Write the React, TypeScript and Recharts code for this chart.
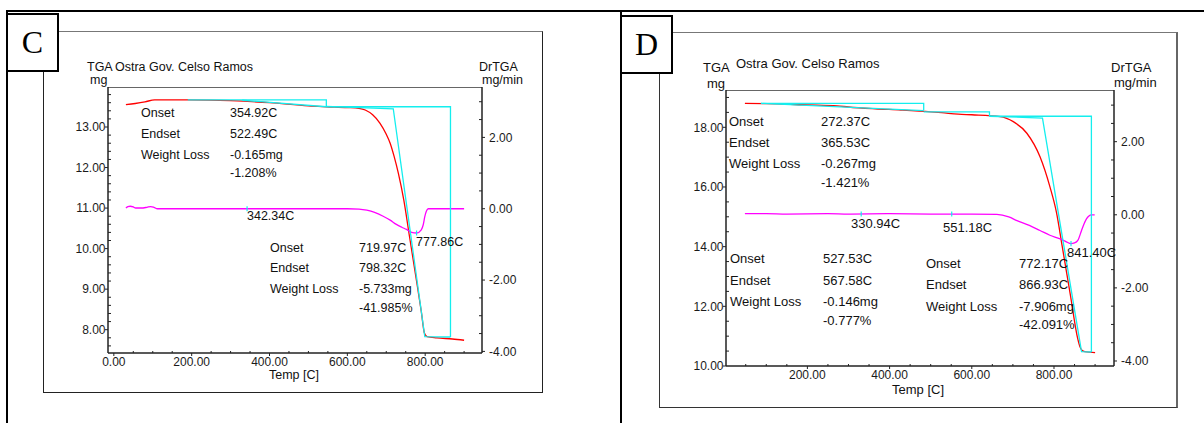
import React from "react";
import { ComposedChart, Line, XAxis, YAxis } from "recharts";

const FONT = '"Liberation Sans", Arial, Helvetica, sans-serif';
const RED = "#ff0000";
const MAG = "#ff00ff";
const CYAN = "#14eeee";

// ---------- panel C : TGA (mg) and DrTGA (mg/min) vs temperature ----------
const tgaTempC = [31, 55, 80, 105, 190, 300, 400, 500, 546, 600, 630, 646, 665, 684, 700, 710, 720, 731, 745, 760, 775, 790, 798, 805, 830, 870, 900];
const tgaMassC = [13.55, 13.58, 13.62, 13.67, 13.67, 13.65, 13.6, 13.52, 13.5, 13.48, 13.46, 13.42, 13.3, 13.09, 12.82, 12.6, 12.28, 11.86, 11.2, 10.28, 9.37, 8.45, 7.92, 7.83, 7.8, 7.77, 7.74];
const drTempC = [31, 36, 42, 50, 56, 70, 85, 95, 103, 112, 200, 400, 600, 630, 650, 670, 692, 710, 726, 740, 752, 765, 778, 790, 795, 799, 803, 808, 900];
const drRateC = [0.02, 0.06, 0.07, 0.05, 0.02, 0.02, 0.04, 0.06, 0.04, 0, 0, 0, 0, -0.01, -0.04, -0.1, -0.21, -0.32, -0.44, -0.52, -0.58, -0.66, -0.68, -0.59, -0.45, -0.22, -0.07, 0, 0];
const cyanC = [
  [[190, 13.67], [546, 13.67], [546, 13.5]],
  [[330, 13.66], [546, 13.5]],
  [[546, 13.5], [865, 13.5], [865, 7.82]],
  [[546, 13.51], [718, 13.45], [799, 7.83], [865, 7.82]],
];
const peaksC = [[342.34, 0], [777.86, -0.68]];

// ---------- panel D ----------
const tgaTempD = [48, 100, 200, 272, 300, 365, 427, 500, 527, 567, 600, 669, 701, 734, 766, 790, 806, 820, 840, 858, 863, 868, 875, 900];
const tgaMassD = [18.8, 18.79, 18.75, 18.72, 18.68, 18.62, 18.58, 18.52, 18.49, 18.44, 18.42, 18.36, 18.19, 17.8, 17.01, 16.01, 15.15, 14.01, 12.37, 10.9, 10.65, 10.53, 10.48, 10.45];
const drTempD = [48, 100, 150, 250, 300, 400, 500, 600, 661, 690, 710, 740, 766, 790, 815, 830, 841, 850, 858, 867, 873, 879, 885, 891, 899];
const drRateD = [0.03, 0.03, 0.02, 0.03, 0.02, 0.03, 0.02, 0.02, 0.01, -0.06, -0.16, -0.29, -0.43, -0.56, -0.66, -0.74, -0.79, -0.77, -0.7, -0.43, -0.25, -0.11, -0.03, 0, 0];
const cyanD = [
  [[87, 18.8], [483, 18.8], [483, 18.58]],
  [[87, 18.8], [483, 18.56]],
  [[483, 18.52], [643, 18.52], [643, 18.37]],
  [[643, 18.37], [891, 18.37], [891, 10.47]],
  [[643, 18.37], [772, 18.31], [867, 10.48], [891, 10.47]],
];
const peaksD = [[330.94, 0.02], [551.18, 0.02], [841.4, -0.79]];

const steps = (a: number, b: number, s: number) => {
  const out: number[] = [];
  for (let v = a; v <= b + 1e-9; v += s) out.push(+v.toFixed(4));
  return out;
};

function makeTick(side: string, major: number[], fs: number) {
  return (p: any) => {
    const v = Number(p.payload.value);
    const big = major.some((m) => Math.abs(m - v) < 1e-6);
    const x = p.x;
    const y = p.y;
    const txt = { fontSize: fs, fontFamily: FONT, fill: "#1a1a1a" };
    if (side === "left")
      return (
        <g>
          <line x1={big ? x - 3 : x} x2={big ? x : x + 3} y1={y} y2={y} stroke="#222" />
          {big && <text x={x - 2.5} y={y + 4.3} textAnchor="end" {...txt}>{v.toFixed(2)}</text>}
        </g>
      );
    if (side === "right")
      return (
        <g>
          <line x1={big ? x : x - 3} x2={big ? x + 3 : x} y1={y} y2={y} stroke="#222" />
          {big && <text x={x + 7} y={y + 4.3} textAnchor="start" {...txt}>{v.toFixed(2)}</text>}
        </g>
      );
    return (
      <g>
        <line x1={x} x2={x} y1={big ? y : y - 2} y2={big ? y + 3 : y} stroke="#222" />
        {big && <text x={x} y={y + 13.3} textAnchor="middle" {...txt}>{v.toFixed(2)}</text>}
      </g>
    );
  };
}

function Txt({ s, x, y, fs }: { s: string; x: number; y: number; fs: number }) {
  return (
    <div style={{ position: "absolute", left: x, top: y - 7, fontSize: fs, lineHeight: "14px", fontFamily: FONT, color: "#111", whiteSpace: "nowrap" }}>
      {s}
    </div>
  );
}

function Panel(props: any) {
  const { box, margin, xDom, xTicks, xMajor, yDom, yTicks, yMajor, rDom, rTicks, rMajor, tga, dr, cyan, peaks } = props;
  const axisLine = { stroke: "#222", strokeWidth: 1.5 };
  return (
    <div style={{ position: "absolute", left: box[0], top: box[1] }}>
      <ComposedChart width={box[2]} height={box[3]} margin={margin}>
        <XAxis type="number" dataKey="t" domain={xDom} allowDataOverflow ticks={xTicks} interval={0}
          tickSize={0} tickMargin={0} tickLine={false} axisLine={axisLine} height={25} tick={makeTick("bottom", xMajor, 12)} />
        <YAxis yAxisId="tga" type="number" domain={yDom} allowDataOverflow ticks={yTicks} interval={0}
          tickSize={0} tickMargin={0} tickLine={false} axisLine={axisLine} width={50} tick={makeTick("left", yMajor, 12)} />
        <YAxis yAxisId="dr" orientation="right" type="number" domain={rDom} allowDataOverflow ticks={rTicks} interval={0}
          tickSize={0} tickMargin={0} tickLine={false} axisLine={axisLine} width={50} tick={makeTick("right", rMajor, 12)} />
        <Line yAxisId="tga" data={tga} dataKey="v" type="monotone" stroke={RED} strokeWidth={1.3} dot={false} activeDot={false} isAnimationActive={false} />
        <Line yAxisId="dr" data={dr} dataKey="v" type="monotone" stroke={MAG} strokeWidth={1.3} dot={false} activeDot={false} isAnimationActive={false} />
        {cyan.map((seg: number[][], i: number) => (
          <Line key={"c" + i} yAxisId="tga" data={seg.map(([t, v]) => ({ t, v }))} dataKey="v" type="linear"
            stroke={CYAN} strokeWidth={1.3} dot={false} activeDot={false} isAnimationActive={false} />
        ))}
        {peaks.map(([t, v]: number[], i: number) => (
          <Line key={"p" + i} yAxisId="dr" data={[{ t, v: v + 0.07 }, { t, v: v - 0.07 }]} dataKey="v" type="linear"
            stroke={CYAN} strokeWidth={1.2} dot={false} activeDot={false} isAnimationActive={false} />
        ))}
      </ComposedChart>
    </div>
  );
}

const zip = (ts: number[], vs: number[]) => ts.map((t, i) => ({ t, v: vs[i] }));

const annC: [string, number, number][] = [
  ["TGA", 87, 66.5], ["Ostra Gov. Celso Ramos", 115, 66.5], ["mg", 90, 80],
  ["DrTGA", 479, 66.5], ["mg/min", 482, 80], ["Temp [C]", 269, 375],
  ["Onset", 141, 113], ["354.92C", 230, 113],
  ["Endset", 141, 134], ["522.49C", 230, 134],
  ["Weight Loss", 141, 155], ["-0.165mg", 230, 155], ["-1.208%", 230, 173],
  ["342.34C", 247, 216],
  ["Onset", 270, 248], ["719.97C", 359, 248],
  ["Endset", 270, 268], ["798.32C", 359, 268],
  ["Weight Loss", 270, 289], ["-5.733mg", 359, 289], ["-41.985%", 359, 307.5],
  ["777.86C", 416, 242],
];

const annD: [string, number, number][] = [
  ["TGA", 703, 68], ["Ostra Gov. Celso Ramos", 736, 64], ["mg", 707, 84],
  ["DrTGA", 1111, 68], ["mg/min", 1114, 83], ["Temp [C]", 892, 390],
  ["Onset", 729, 122], ["272.37C", 821, 122],
  ["Endset", 729, 143], ["365.53C", 821, 143],
  ["Weight Loss", 729, 164], ["-0.267mg", 821, 164], ["-1.421%", 821, 183],
  ["330.94C", 851, 224], ["551.18C", 943, 228],
  ["Onset", 730, 259], ["527.53C", 823, 259],
  ["Endset", 730, 281], ["567.58C", 823, 281],
  ["Weight Loss", 730, 302], ["-0.146mg", 823, 302], ["-0.777%", 823, 320.5],
  ["Onset", 926, 264], ["772.17C", 1019, 264],
  ["Endset", 926, 285], ["866.93C", 1019, 285],
  ["Weight Loss", 926, 307], ["-7.906mg", 1019, 307], ["-42.091%", 1019, 325],
  ["841.40C", 1067, 253],
];

const abs = (l: number, t: number, w: number, h: number, extra: any = {}) => ({ position: "absolute" as const, left: l, top: t, width: w, height: h, boxSizing: "border-box" as const, ...extra });

export default function App() {
  return (
    <div style={{ position: "absolute", left: 0, top: 0, width: 1204, height: 423, background: "#fff", overflow: "hidden" }}>
      {/* outer table lines */}
      <div style={abs(6, 10, 1198, 2, { background: "#000" })} />
      <div style={abs(6, 10, 2, 413, { background: "#000" })} />
      <div style={abs(620, 10, 2, 413, { background: "#000" })} />

      {/* inner frames */}
      <div style={abs(43, 31, 500, 362, { border: "1px solid #222", borderTopColor: "#777" })} />
      <div style={abs(659, 32, 519, 376, { border: "1px solid #333", borderTopColor: "#777", borderRightWidth: 2, borderRightColor: "#666" })} />

      {/* plot box top lines */}
      <div style={abs(108, 87, 374, 1, { background: "#666" })} />
      <div style={abs(726, 90, 388, 1, { background: "#666" })} />

      <Panel
        box={[43, 31, 499, 361]}
        margin={{ top: 56, right: 10, bottom: 14, left: 15 }}
        xDom={[-15, 946]} xTicks={steps(0, 900, 50)} xMajor={[0, 200, 400, 600, 800]}
        yDom={[7.425, 13.987]} yTicks={steps(7.6, 13.8, 0.2)} yMajor={[8, 9, 10, 11, 12, 13]}
        rDom={[-4.045, 3.413]} rTicks={steps(-4, 3, 0.5)} rMajor={[-4, -2, 0, 2]}
        tga={zip(tgaTempC, tgaMassC)} dr={zip(drTempC, drRateC)} cyan={cyanC} peaks={peaksC}
      />
      <Panel
        box={[659, 32, 518, 375]}
        margin={{ top: 58, right: 13, bottom: 16, left: 17 }}
        xDom={[2, 946]} xTicks={steps(50, 900, 50)} xMajor={[200, 400, 600, 800]}
        yDom={[10, 19.25]} yTicks={steps(10, 19, 0.5)} yMajor={[10, 12, 14, 16, 18]}
        rDom={[-4.137, 3.414]} rTicks={steps(-4, 3, 0.5)} rMajor={[-4, -2, 0, 2]}
        tga={zip(tgaTempD, tgaMassD)} dr={zip(drTempD, drRateD)} cyan={cyanD} peaks={peaksD}
      />

      {annC.map(([s, x, y], i) => <Txt key={"a" + i} s={s} x={x} y={y} fs={12.5} />)}
      {annD.map(([s, x, y], i) => <Txt key={"b" + i} s={s} x={x} y={y} fs={13} />)}

      {/* panel letters */}
      <div style={abs(6, 13, 53, 59, { border: "2px solid #000", background: "#fff", fontFamily: '"Liberation Serif", "Times New Roman", serif', fontSize: 32, lineHeight: "55px", textAlign: "center", color: "#000" })}>C</div>
      <div style={abs(620, 15, 53, 59, { border: "2px solid #000", background: "#fff", fontFamily: '"Liberation Serif", "Times New Roman", serif', fontSize: 32, lineHeight: "55px", textAlign: "center", color: "#000" })}>D</div>
    </div>
  );
}
